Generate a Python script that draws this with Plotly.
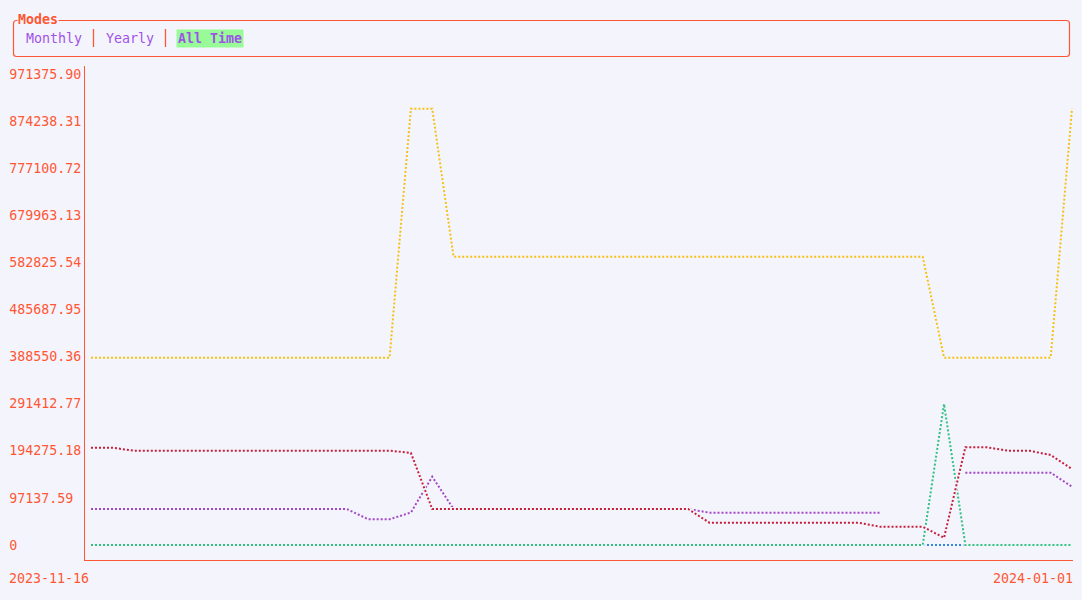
import pandas as pd
import plotly.graph_objects as go

# ---------------- data ----------------
START_DATE = "2023-11-16"
END_DATE = "2024-01-01"
dates = pd.date_range(START_DATE, END_DATE, freq="D")

series_yellow = [386300, 386300, 386300, 386300, 386300, 386300, 386300, 386300,
                 386300, 386300, 386300, 386300, 386300, 386300, 386300,
                 899800, 899800,
                 594600, 594600, 594600, 594600, 594600, 594600, 594600, 594600,
                 594600, 594600, 594600, 594600, 594600, 594600, 594600, 594600,
                 594600, 594600, 594600, 594600, 594600, 594600, 594600,
                 386300, 386300, 386300, 386300, 386300, 386300,
                 899800]

series_purple = [74200, 74200, 74200, 74200, 74200, 74200, 74200, 74200, 74200,
                 74200, 74200, 74200, 74200,
                 53000, 53000, 67000, 140900,
                 74200, 74200, 74200, 74200, 74200, 74200, 74200, 74200, 74200,
                 74200, 74200, 74200,
                 66600, 66600, 66600, 66600, 66600, 66600, 66600, 66600, 66600,
                 None, None, None,
                 149100, 149100, 149100, 149100, 149100,
                 120200]

series_blue = [0, 0, 0, 0, 0, 0, 0, 0, 0, 0, 0, 0, 0, 0, 0, 0, 0, 0, 0, 0, 0, 0, 0, 0,
               0, 0, 0, 0, 0, 0, 0, 0, 0, 0, 0, 0, 0, 0, 0, 0, 0, 0, 0, 0, 0, 0, 0]

series_green = [0, 0, 0, 0, 0, 0, 0, 0, 0, 0, 0, 0, 0, 0, 0, 0, 0, 0, 0, 0,
                0, 0, 0, 0, 0, 0, 0, 0, 0, 0, 0, 0, 0, 0, 0, 0, 0, 0, 0, 0,
                290800,
                0, 0, 0, 0, 0, 0]

series_red = [200700, 200700,
              194500, 194500, 194500, 194500, 194500, 194500, 194500, 194500,
              194500, 194500, 194500, 194500, 194500,
              190000,
              74200, 74200, 74200, 74200, 74200, 74200, 74200, 74200, 74200,
              74200, 74200, 74200, 74200,
              46000, 46000, 46000, 46000, 46000, 46000, 46000, 46000,
              37700, 37700, 37700,
              15000,
              201500, 201500, 194500, 194500,
              185600, 156700]

y_tick_values = [0, 97137.59, 194275.18, 291412.77, 388550.36, 485687.95,
                 582825.54, 679963.13, 777100.72, 874238.31, 971375.90]
y_tick_labels = ["0", "97137.59", "194275.18", "291412.77", "388550.36", "485687.95",
                 "582825.54", "679963.13", "777100.72", "874238.31", "971375.90"]
Y_MAX = 971375.90

mode_labels = ["Monthly", "Yearly", "All Time"]
header_title = "Modes"

# ---------------- style ----------------
BG = "#f4f4fd"
ORANGE = "#ff5733"
PURPLE_TXT = "#9f52e6"
HILITE = "#98fb98"
FONT = "DejaVu Sans Mono"
FS = 13.3

COLORS = {
    "yellow": "#f5c211",
    "purple": "#a347c8",
    "blue": "#3584e4",
    "green": "#2ec27e",
    "red": "#c8203a",
}

W, H = 1082, 600
L, R, T, B = 85, 9, 66, 40
PW, PH = W - L - R, H - T - B


def pxx(x):
    return (x - L) / PW


def pxy(y):
    return (H - B - y) / PH


fig = go.Figure()

order = [("yellow", series_yellow), ("purple", series_purple), ("blue", series_blue),
         ("green", series_green), ("red", series_red)]
for name, vals in order:
    # background underlay: later series hide earlier ones (terminal cell override)
    fig.add_trace(go.Scatter(x=dates, y=vals, mode="lines",
                             line=dict(color=BG, width=4), hoverinfo="skip",
                             showlegend=False))
    fig.add_trace(go.Scatter(x=dates, y=vals, mode="lines", name=name,
                             line=dict(color=COLORS[name], width=2, dash="2px,2px"),
                             showlegend=False))

# axis ranges: value 0 at px 545, Y_MAX at px 74
k = Y_MAX / (545 - 74)
y_range = [-(H - B - 545) * k, (545 - T) * k]
day = pd.Timedelta(days=1)
ppd = (1072 - 91) / (len(dates) - 1)
x_range = [dates[0] - day * ((91 - L) / ppd), dates[-1] + day * ((W - R - 1072) / ppd)]

pad = "\u00a0"
fig.update_layout(
    width=W, height=H,
    margin=dict(l=L, r=R, t=T, b=B, pad=0),
    paper_bgcolor=BG, plot_bgcolor=BG,
    hovermode=False,
    font=dict(family=FONT, size=FS, color=ORANGE),
    xaxis=dict(range=x_range, showgrid=False, zeroline=False, showticklabels=False,
               ticks="", showline=True, linecolor=ORANGE, linewidth=1),
    yaxis=dict(range=y_range, showgrid=False, zeroline=False, ticks="",
               tickvals=y_tick_values,
               ticktext=[t.ljust(9, pad) for t in y_tick_labels],
               tickfont=dict(family=FONT, size=FS, color=ORANGE),
               showline=True, linecolor=ORANGE, linewidth=1),
)

annotations = []
# x-axis end labels
annotations.append(dict(x=dates[0], y=pxy(578), xref="x", yref="paper", text=START_DATE,
                        xanchor="right", yanchor="middle", showarrow=False, xshift=0,
                        font=dict(family=FONT, size=FS, color=ORANGE)))
annotations.append(dict(x=dates[-1], y=pxy(578), xref="x", yref="paper", text=END_DATE,
                        xanchor="right", yanchor="middle", showarrow=False, xshift=3,
                        font=dict(family=FONT, size=FS, color=ORANGE)))

# header box
bx0, bx1, by0, by1, rr = 13.5, 1069.5, 20.5, 56.5, 3
rx, ry = rr / PW, rr / PH
X0, X1, Y0, Y1 = pxx(bx0), pxx(bx1), pxy(by1), pxy(by0)
path = (f"M {X0+rx},{Y1} L {X1-rx},{Y1} Q {X1},{Y1} {X1},{Y1-ry} "
        f"L {X1},{Y0+ry} Q {X1},{Y0} {X1-rx},{Y0} L {X0+rx},{Y0} "
        f"Q {X0},{Y0} {X0},{Y0+ry} L {X0},{Y1-ry} Q {X0},{Y1} {X0+rx},{Y1} Z")
fig.add_shape(type="path", path=path, xref="paper", yref="paper",
              line=dict(color=ORANGE, width=1.2), fillcolor="rgba(0,0,0,0)")

# separators between the mode buttons
for sx in [93.5, 165.5]:
    fig.add_shape(type="line", xref="paper", yref="paper",
                  x0=pxx(sx), x1=pxx(sx), y0=pxy(47), y1=pxy(29),
                  line=dict(color=ORANGE, width=1.3))

annotations.append(dict(x=pxx(17), y=pxy(20), xref="paper", yref="paper",
                        text=f"<b>{header_title}</b>", xanchor="left", yanchor="middle",
                        showarrow=False, bgcolor=BG, borderpad=0,
                        font=dict(family=FONT, size=FS, color=ORANGE)))
mode_x = [25, 105, 176]
for i, lab in enumerate(mode_labels):
    active = (i == len(mode_labels) - 1)
    annotations.append(dict(x=pxx(mode_x[i]), y=pxy(38.5), xref="paper", yref="paper",
                            text=f"<b>{lab}</b>" if active else lab,
                            xanchor="left", yanchor="middle", showarrow=False,
                            bgcolor=HILITE if active else None,
                            borderpad=1 if active else 0,
                            font=dict(family=FONT, size=FS, color=PURPLE_TXT)))

fig.update_layout(annotations=annotations)

fig.write_html("out.html")
